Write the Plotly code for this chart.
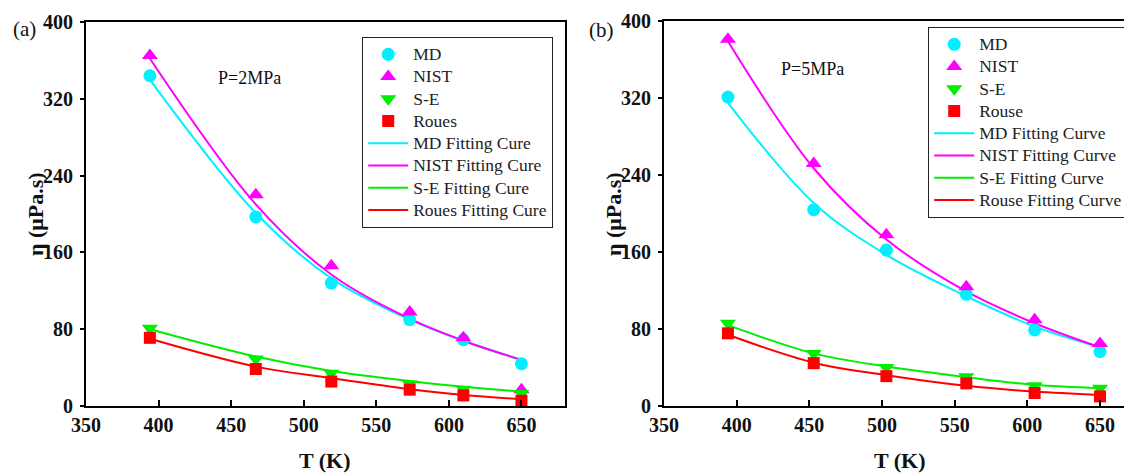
import plotly.graph_objects as go

# ---------------- data ----------------
T_a = [394, 467, 519, 573, 610, 650]
md_a = [344, 197, 128, 90, 69, 44]
nist_a = [365, 220, 146, 98, 71, 17]
se_a = [81, 49, 34, 23, 17.5, 13]
roues_a = [71, 38.5, 25.5, 17, 11, 5.5]
md_fit_a = [340, 201, 133, 90, 68, 48]
nist_fit_a = [362, 210, 137, 91, 68, 48]
se_fit_a = [80, 51.5, 36.5, 26, 20, 15]
roues_fit_a = [70, 41, 29, 17.5, 11.5, 7]

T_b = [394, 453, 503, 558, 605, 650]
md_b = [321, 204, 162, 116, 79, 56.5]
nist_b = [381, 252, 178, 124, 89.5, 65]
se_b = [86, 54.5, 40, 30.5, 21, 18.5]
rouse_b = [75.5, 44.5, 31, 23.5, 13.5, 10]
md_fit_b = [315, 211, 157, 114, 82.5, 61]
nist_fit_b = [379, 247, 173, 119, 86, 61]
se_fit_b = [84, 54.7, 41, 30, 22, 18.5]
rouse_fit_b = [74, 45, 32, 21, 15, 11.5]

x_ticks = [350, 400, 450, 500, 550, 600, 650]
y_ticks = [0, 80, 160, 240, 320, 400]

names_a = ["MD", "NIST", "S-E", "Roues"]
fit_names_a = ["MD Fitting Cure", "NIST Fitting Cure", "S-E Fitting Cure", "Roues Fitting Cure"]
names_b = ["MD", "NIST", "S-E", "Rouse"]
fit_names_b = ["MD Fitting Curve", "NIST Fitting Curve", "S-E Fitting Curve", "Rouse Fitting Curve"]

# ---------------- styling ----------------
OFF = 8                      # page body margin
W, H = 1132 - OFF, 475 - OFF
FONT = "Liberation Serif, Times New Roman, serif"
colors = ["#00f0ff", "#ff00ff", "#00ee00", "#ff0000"]
symbols = ["circle", "triangle-up", "triangle-down", "square"]
msizes = [13, 14, 14, 12]


def px(x):
    return (x - OFF) / W


def py(y):
    return 1 - (y - OFF) / H


def legtext(s):
    return '<span style="font-size:17.5px">%s</span>' % s


fig = go.Figure()


def add_panel(T, pts, fits, names, fit_names, xa, ya, leg):
    for i, (f, n) in enumerate(zip(fits, fit_names)):
        fig.add_trace(go.Scatter(
            x=T, y=f, mode="lines", name=legtext(n), xaxis=xa, yaxis=ya, legend=leg,
            legendrank=10 + i,
            line=dict(color=colors[i], width=2, shape="spline", smoothing=1.0),
        ))
    for i, (p, n) in enumerate(zip(pts, names)):
        fig.add_trace(go.Scatter(
            x=T, y=p, mode="markers", name=legtext(n), xaxis=xa, yaxis=ya, legend=leg,
            legendrank=i,
            marker=dict(color=colors[i], symbol=symbols[i], size=msizes[i], line=dict(width=0)),
        ))


add_panel(T_a, [md_a, nist_a, se_a, roues_a],
          [md_fit_a, nist_fit_a, se_fit_a, roues_fit_a],
          names_a, fit_names_a, "x", "y", "legend")
add_panel(T_b, [md_b, nist_b, se_b, rouse_b],
          [md_fit_b, nist_fit_b, se_fit_b, rouse_fit_b],
          names_b, fit_names_b, "x2", "y2", "legend2")

tickfont = dict(family=FONT, size=20, color="#111")


def xaxis(domain, rng, anchor):
    return dict(domain=domain, range=rng, tickvals=x_ticks,
                ticktext=["<b>%d</b>" % v for v in x_ticks],
                ticks="inside", ticklen=6, tickwidth=1.5, tickcolor="black",
                showline=True, linewidth=2, linecolor="black", mirror=True,
                showgrid=False, zeroline=False, tickfont=tickfont,
                automargin=False, anchor=anchor, ticklabelstandoff=0)


def yaxis(domain, anchor, mirror):
    return dict(domain=domain, range=[0, 400], tickvals=y_ticks,
                ticktext=["<b>%d</b>" % v for v in y_ticks],
                ticks="outside", ticklen=4, tickwidth=1.5, tickcolor="black",
                showline=True, linewidth=2, linecolor="black", mirror=mirror,
                showgrid=False, zeroline=False, tickfont=tickfont,
                automargin=False, anchor=anchor, ticklabelstandoff=3)


legend_common = dict(
    bgcolor="white", bordercolor="#222", borderwidth=1.2,
    font=dict(family=FONT, size=14.8, color="#222"),
    xanchor="left", yanchor="top", itemwidth=40, tracegroupgap=0,
)

fig.update_layout(
    width=W, height=H,
    margin=dict(l=0, r=0, t=0, b=0),
    paper_bgcolor="white", plot_bgcolor="white",
    font=dict(family=FONT, color="black"),
    showlegend=True,
    xaxis=xaxis([px(86), px(565)], [350, 680], "y"),
    yaxis=yaxis([py(406), py(22)], "x", True),
    xaxis2=xaxis([px(664), 1.0], [350, 672], "y2"),
    yaxis2=yaxis([py(406), py(21)], "x2", False),
    legend=dict(x=px(362), y=py(37), **legend_common),
    legend2=dict(x=px(928), y=py(27), **legend_common),
)


def ann(text, x, y, size, bold=False, angle=0):
    fig.add_annotation(
        text="<b>%s</b>" % text if bold else text,
        xref="paper", yref="paper", x=px(x), y=py(y),
        xanchor="center", yanchor="middle", showarrow=False, textangle=angle,
        font=dict(family=FONT, size=size, color="#111"),
    )


ann("(a)", 24, 29, 21)
ann("(b)", 601, 30, 21)
ann("P=2MPa", 249, 78, 18)
ann("P=5MPa", 812, 69, 18)
ann("T (K)", 325, 460, 22, bold=True)
ann("T (K)", 900, 460, 22, bold=True)
ann("η (μPa.s)", 35, 214, 22, bold=True, angle=-90)
ann("η (μPa.s)", 613, 214, 22, bold=True, angle=-90)

fig.write_html("out.html")
